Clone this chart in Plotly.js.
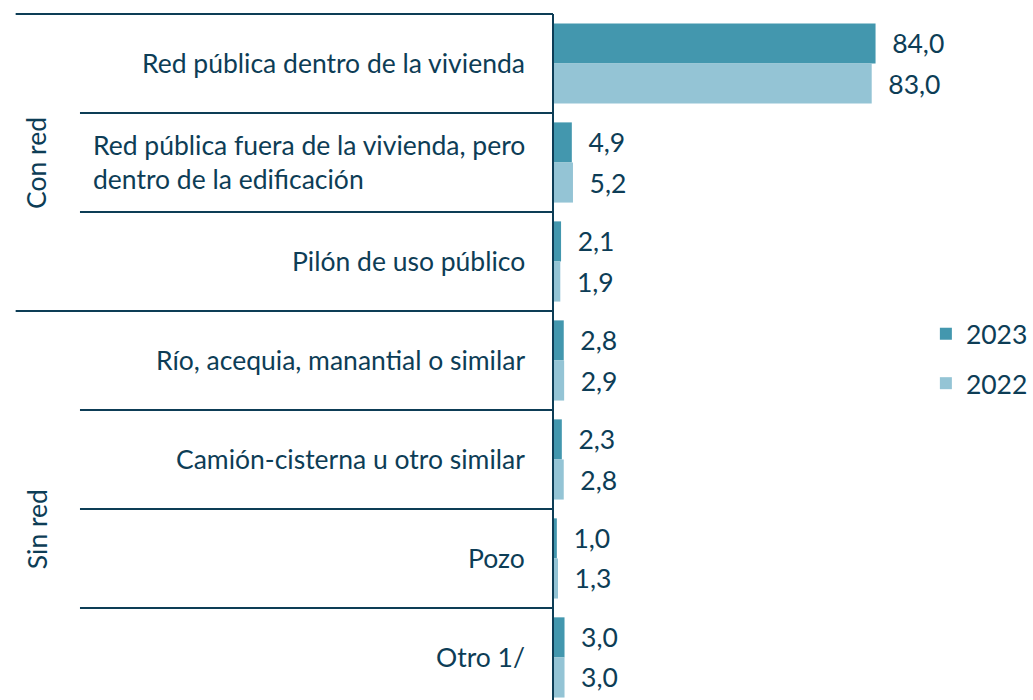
<!DOCTYPE html>
<html>
<head>
<meta charset="utf-8">
<script src="https://cdn.plot.ly/plotly-3.0.1.min.js"></script>
<style>html,body{margin:0;padding:0;background:#fff;}#chart{width:1033px;height:700px;}</style>
</head>
<body>
<div id="chart"></div>
<script>
const categories = [
  "Red pública dentro de la vivienda",
  "Red pública fuera de la vivienda, pero<br>dentro de la edificación",
  "Pilón de uso público",
  "Río, acequia, manantial o similar",
  "Camión-cisterna u otro similar",
  "Pozo",
  "Otro 1/"
];
const groups = ["Con red", "Sin red"];
const groupSpans = [[0, 2], [3, 6]];
const seriesNames = ["2023", "2022"];
const values2023 = [84.0, 4.9, 2.1, 2.8, 2.3, 1.0, 3.0];
const values2022 = [83.0, 5.2, 1.9, 2.9, 2.8, 1.3, 3.0];

const navy = "#0d3d56";
const c2023 = "#4397ae";
const c2022 = "#94c4d5";
const FONT = "Lato, 'Open Sans', sans-serif";
const FS = 26.5;

const yTop = -0.5, yBot = 6.43;
function yp(v) { return 1 - (v - yTop) / (yBot - yTop); }

const traces = [values2023, values2022].map((vals, i) => ({
  type: "bar",
  orientation: "h",
  name: seriesNames[i],
  y: categories.map((c, k) => k),
  x: vals,
  marker: {color: i === 0 ? c2023 : c2022},
  text: vals.map(v => "\u00a0\u00a0" + v.toFixed(1).replace(".", ",")),
  textposition: "outside",
  textfont: {family: FONT, size: FS, color: navy},
  cliponaxis: false,
  legendgroup: "g" + i,
  hoverinfo: "x"
}));

const annotations = categories.map((c, k) => ({
  xref: "paper", yref: "paper",
  x: (527 - 553) / 480, y: yp(k),
  xanchor: "right", yanchor: "middle", align: "left",
  text: c, showarrow: false,
  font: {family: FONT, size: FS, color: navy}
}));
groups.forEach((g, gi) => {
  const [a, b] = groupSpans[gi];
  annotations.push({
    xref: "paper", yref: "paper",
    x: (31 - 553) / 480, y: gi === 0 ? yp((a + b) / 2) : yp(4.7),
    xanchor: "center", yanchor: "middle", textangle: -90,
    text: g, showarrow: false,
    font: {family: FONT, size: FS, color: navy}
  });
});

const shapes = [];
for (let k = 0; k <= categories.length; k++) {
  const v = k - 0.5;
  const isGroup = (k === 0 || k === 3);
  shapes.push({
    type: "line", xref: "paper", yref: "paper",
    x0: ((isGroup ? 10 : 75) - 553) / 480, x1: 0,
    y0: yp(v), y1: yp(v),
    line: {color: navy, width: 2}
  });
}
shapes.push({type: "line", xref: "paper", yref: "paper", x0: 0, x1: 0, y0: 0, y1: 1, line: {color: navy, width: 2}});

const layout = {
  width: 1033, height: 700,
  margin: {l: 553, r: 0, t: 14, b: 0, pad: 0},
  paper_bgcolor: "#fff", plot_bgcolor: "#fff",
  barmode: "group", bargap: 0.19, bargroupgap: 0,
  separators: ",.",
  showlegend: true,
  legend: {x: 0.785, y: 0.5685, xanchor: "left", yanchor: "top",
    font: {family: FONT, size: FS, color: navy}, tracegroupgap: 12,
    traceorder: "grouped", bgcolor: "rgba(0,0,0,0)"},
  xaxis: {range: [0, 123.7], visible: false, fixedrange: true},
  yaxis: {range: [yBot, yTop], showticklabels: false, showgrid: false, zeroline: false,
    showline: false, ticks: "", fixedrange: true, type: "linear"},
  shapes: shapes,
  annotations: annotations,
  font: {family: FONT, color: navy}
};

Plotly.newPlot("chart", traces, layout, {displayModeBar: false, staticPlot: true});
</script>
</body>
</html>
